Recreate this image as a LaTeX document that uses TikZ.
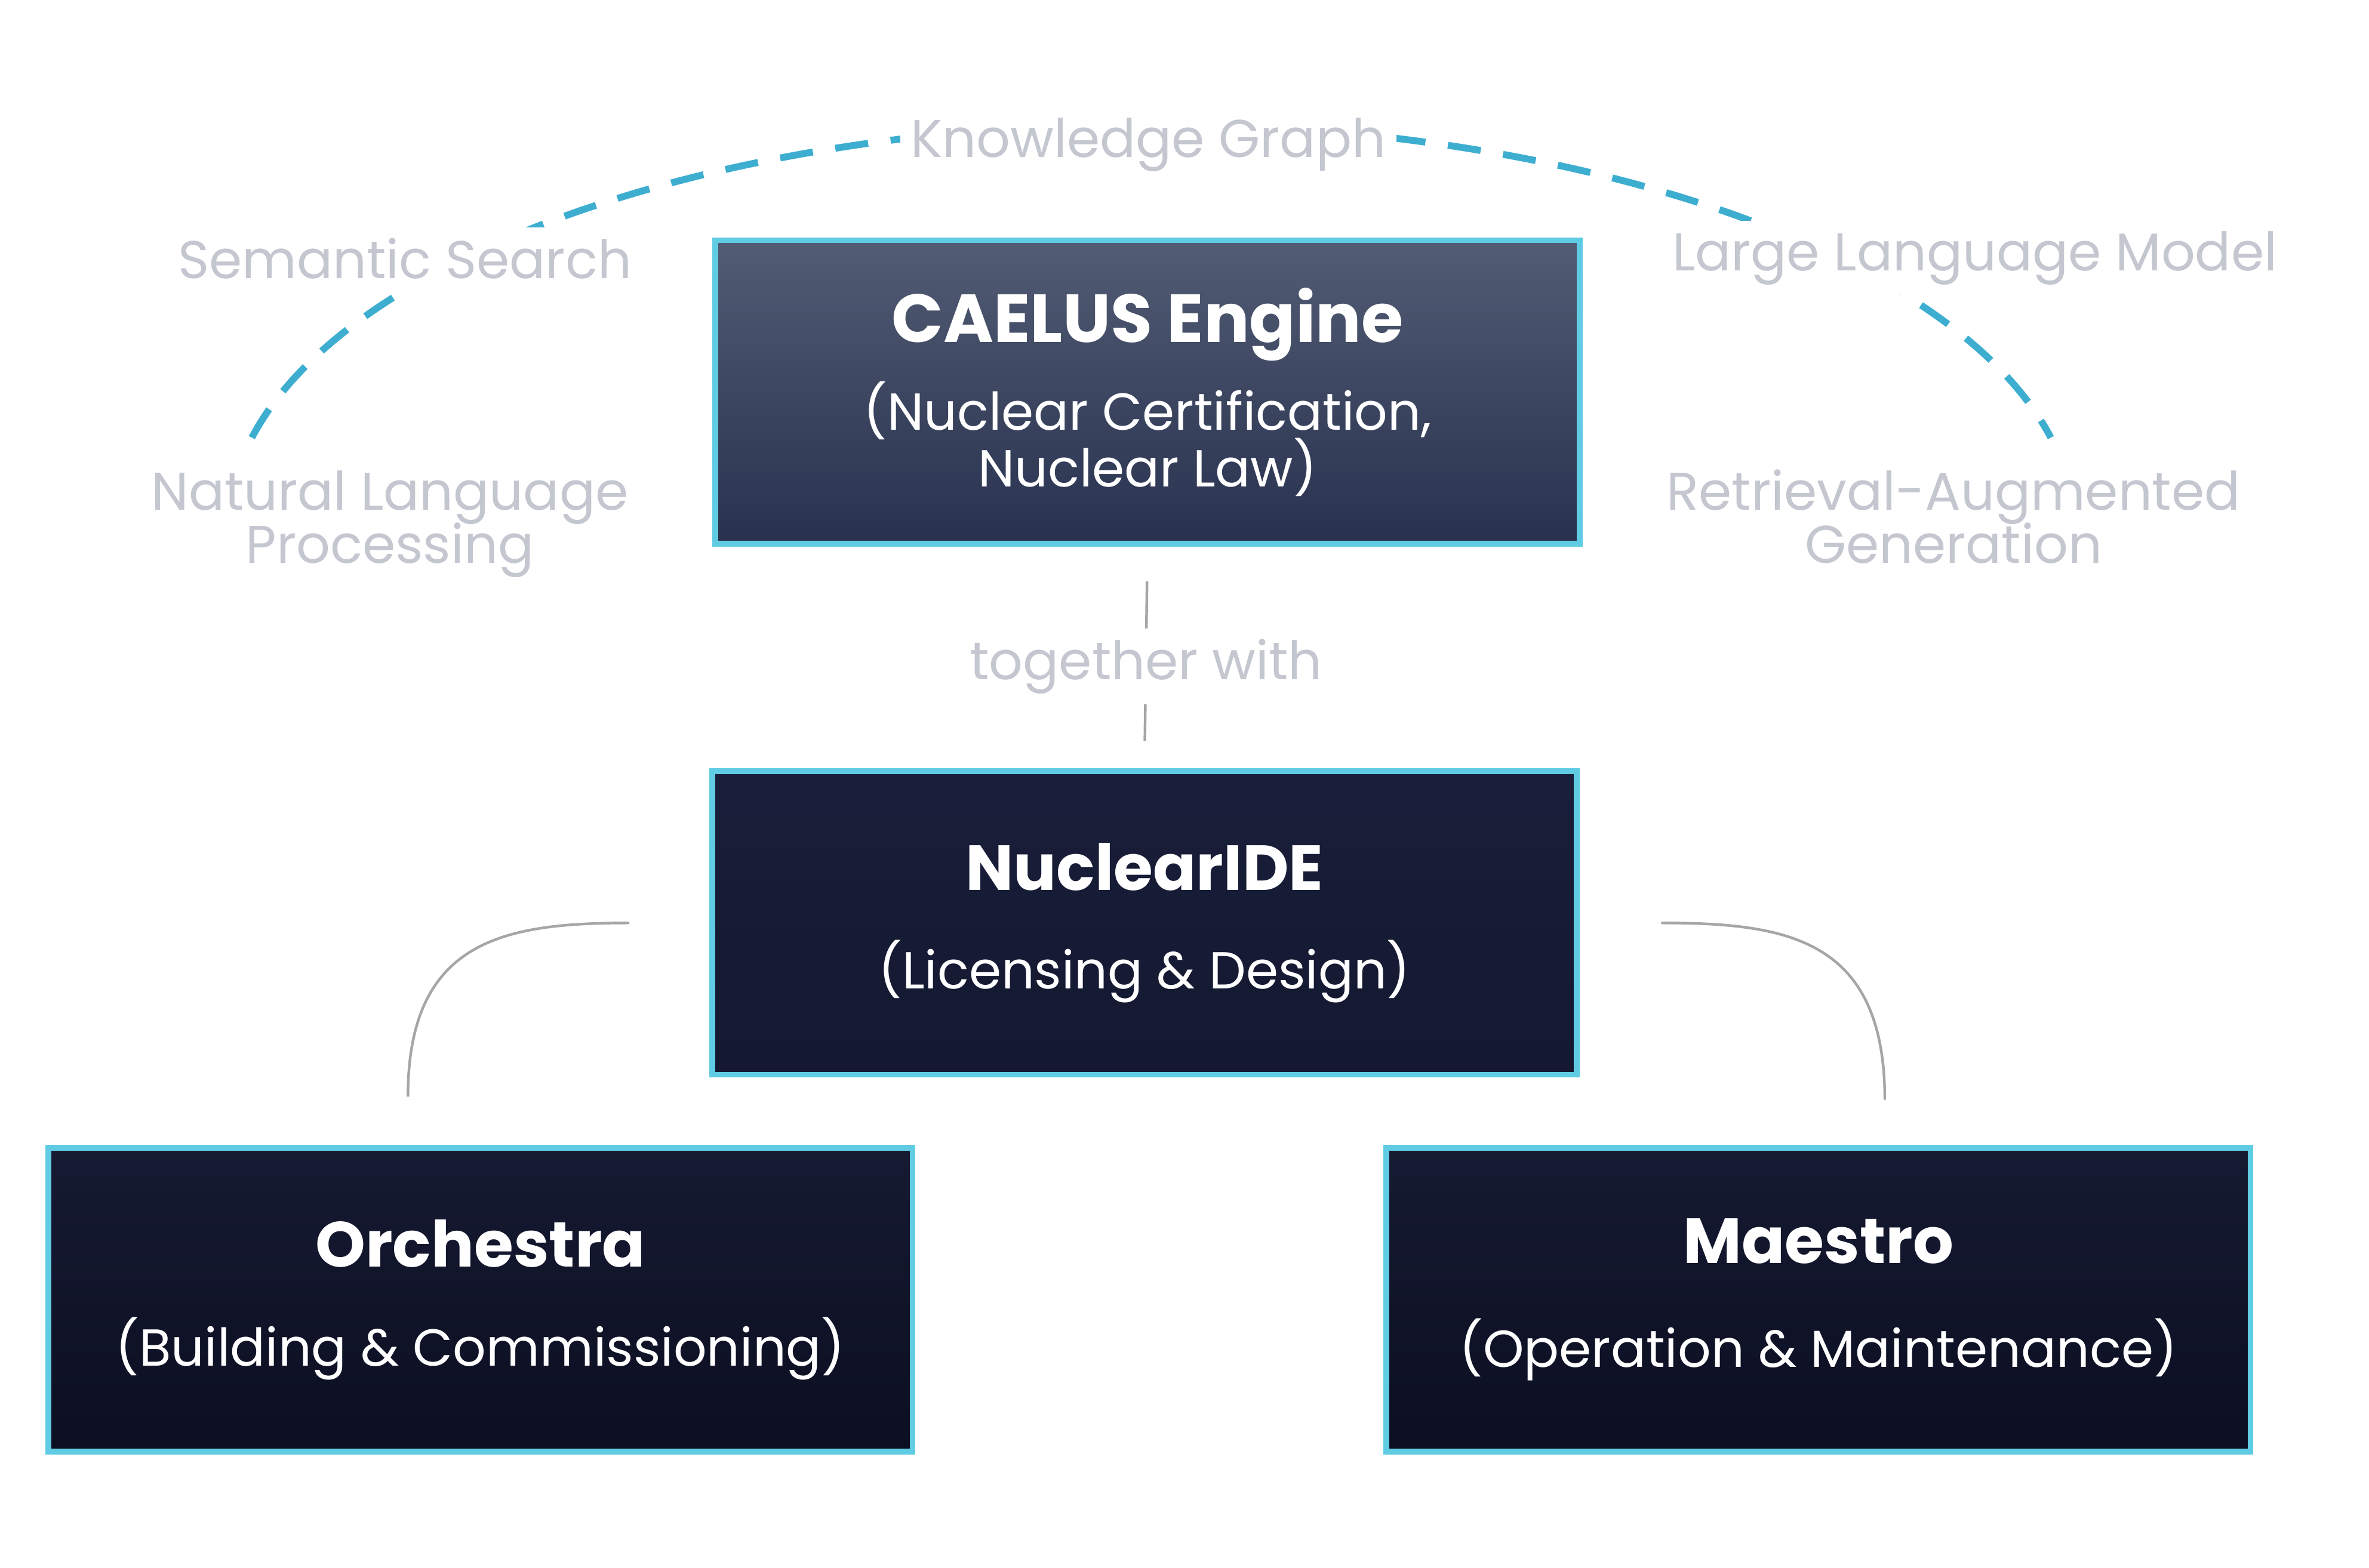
\documentclass[tikz,border=0pt]{standalone}
\usepackage{fontspec}
\setmainfont{Poppins}
\usetikzlibrary{positioning}
\definecolor{edgecyan}{RGB}{96,204,228}
\definecolor{dashblue}{RGB}{62,174,208}
\definecolor{slatetop}{RGB}{82,92,116}
\definecolor{slatebot}{RGB}{40,49,78}
\definecolor{navytop}{RGB}{25,30,58}
\definecolor{navybot}{RGB}{20,24,48}
\definecolor{inktop}{RGB}{22,26,50}
\definecolor{inkbot}{RGB}{12,15,33}
\definecolor{faint}{RGB}{196,198,208}
\newcommand{\modtitle}[2][12]{{\bfseries\fontsize{#1}{14}\selectfont #2}}
\newcommand{\tightlines}{\lineskiplimit=-100pt\relax}

\begin{document}
\begin{tikzpicture}[
  module/.style={draw=edgecyan, line width=1.1pt, align=center, text=white,
  minimum width=5.72cm, minimum height=2.01cm, inner sep=0pt,
  font=\fontsize{9.8}{10.6}\selectfont\tightlines},
  engine/.style={module, top color=slatetop, bottom color=slatebot},
  ide/.style={module, top color=navytop, bottom color=navybot},
  tool/.style={module, top color=inktop, bottom color=inkbot},
  tag/.style={text=faint, fill=white, align=center, inner sep=2pt,
  font=\fontsize{10}{10}\selectfont\tightlines},
  kgarc/.style={draw=dashblue, line width=1.3pt, dash pattern=on 0.22cm off 0.15cm},
  link/.style={draw=black!35, line width=0.5pt}
]
\useasboundingbox (0,0) rectangle (15.68,-10.38);

% knowledge arc behind the technique labels
\coordinate (arcL) at (1.667,-2.897);
\draw[kgarc] (arcL) arc[start angle=167, end angle=13, x radius=6.11, y radius=2.68] coordinate (arcR);

\node[tag] (kg)  at (7.60,-0.96) {Knowledge Graph};
\node[tag] (ss)  at (2.68,-1.71) {Semantic Search};
\node[tag] (llm) at (13.07,-1.71) {Large Language Model};
\node[tag] (nlp) at (2.58,-3.47) {Natural Language\\Processing};
\node[tag] (rag) at (12.93,-3.42) {Retrieval-Augmented\\Generation};

\node[engine] (caelus) at (7.595,-2.595) {\modtitle[12.8]{CAELUS Engine}\\[6pt](Nuclear Certification,\\Nuclear Law)};
\node[ide] (nide) at (7.575,-6.11) {\modtitle{NuclearIDE}\\[8pt](Licensing \& Design)};
\node[tool] (orch) at (3.18,-8.605) {\modtitle{Orchestra}\\[8pt](Building \& Commissioning)};
\node[tool] (maes) at (12.035,-8.605) {\modtitle{Maestro}\\[9pt](Operation \& Maintenance)};

\draw[link, shorten <=0.23cm, shorten >=0.18cm] (caelus.south) -- node[tag, minimum height=0.5cm, yshift=-0.06cm] {together with} (nide.north);
\draw[link, shorten <=0.53cm, shorten >=0.32cm] (nide.west) to[out=180, in=90, looseness=1.4] ([xshift=-0.48cm]orch.north);
\draw[link, shorten <=0.54cm, shorten >=0.30cm] (nide.east) to[out=0, in=90, looseness=1.4] ([xshift=0.44cm]maes.north);
\end{tikzpicture}
\end{document}
